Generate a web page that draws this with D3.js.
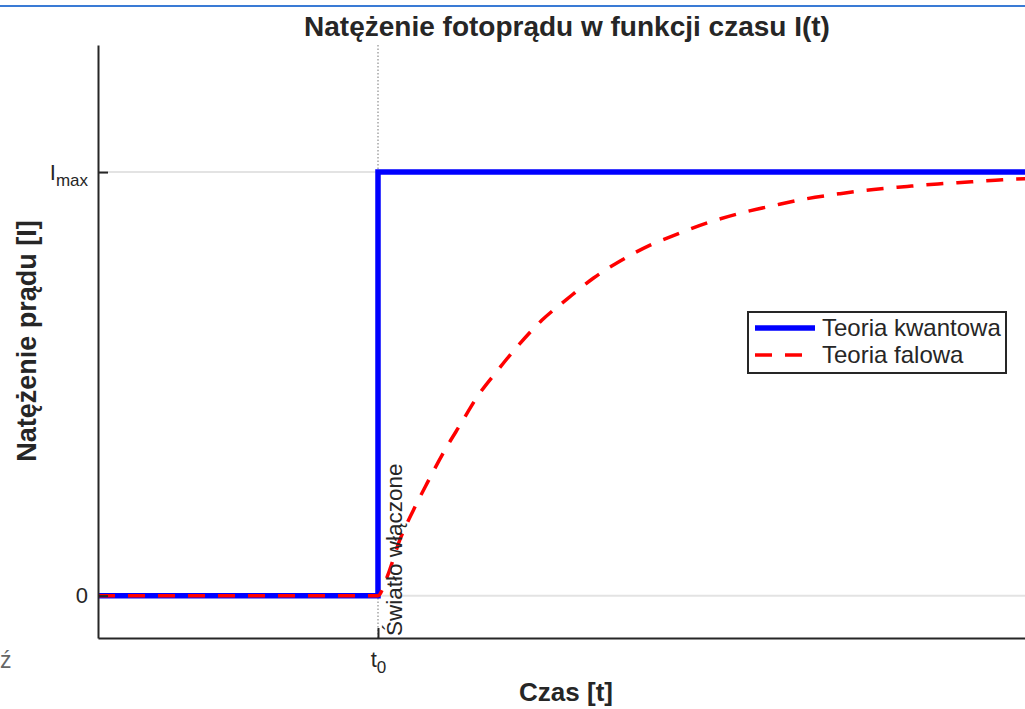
<!DOCTYPE html>
<html>
<head>
<meta charset="utf-8">
<script src="https://cdn.jsdelivr.net/npm/d3@7"></script>
<style>
  body { margin: 0; overflow: hidden; background: #fff; }
  text { font-family: "Liberation Sans", Arial, sans-serif; fill: #262626; }
</style>
</head>
<body>
<div id="wrapper"></div>
<script>
// t0 = moment the light is switched on
const t0 = 2
const tMax = 6.7

// quantum theory: instant jump to Imax
const quantumTime = [0, 2, 2, 6.7]
const quantumValue = [0, 0, 1, 1]

// wave theory: slow rise
const waveTime = [0, 2, 2.06, 2.16, 2.25, 2.35, 2.48, 2.59, 2.71, 2.85, 3.0, 3.17, 3.35, 3.54, 3.73, 3.94, 4.11, 4.37, 4.6, 4.84, 5.06, 5.3, 5.54, 5.78, 6.0, 6.24, 6.46, 6.7]
const waveValue = [0, 0, 0.04, 0.135, 0.2, 0.265, 0.345, 0.405, 0.47, 0.53, 0.59, 0.65, 0.7, 0.75, 0.79, 0.827, 0.85, 0.882, 0.904, 0.922, 0.937, 0.949, 0.959, 0.966, 0.972, 0.977, 0.982, 0.985]

const seriesNames = ["Teoria kwantowa", "Teoria falowa"]
const yTicks = [0, 1]

function drawChart() {
  let dimensions = {
    width: 1025,
    height: 709,
    left: 98,
    right: 1036,
    top: 45,
    bottom: 638
  }

  const wrapper = d3.select("#wrapper")
    .append("svg")
      .attr("width", dimensions.width)
      .attr("height", dimensions.height)

  // thin blue line along the top of the screenshot
  wrapper.append("rect")
    .attr("x", 0).attr("y", 5)
    .attr("width", dimensions.width).attr("height", 2)
    .attr("fill", "#3a7bd5")

  const xScale = d3.scaleLinear()
    .domain([0, tMax])
    .range([dimensions.left, dimensions.right])

  const yScale = d3.scaleLinear()
    .domain([-0.1, 1.3])
    .range([dimensions.bottom, dimensions.top])

  const bounds = wrapper.append("g")

  // grid lines
  bounds.selectAll(".grid")
    .data(yTicks)
    .enter().append("line")
      .attr("x1", dimensions.left)
      .attr("x2", dimensions.right)
      .attr("y1", d => yScale(d))
      .attr("y2", d => yScale(d))
      .attr("stroke", "#e3e3e3")
      .attr("stroke-width", 2)

  // dotted marker at t0
  bounds.append("line")
    .attr("x1", xScale(t0)).attr("x2", xScale(t0))
    .attr("y1", dimensions.top).attr("y2", dimensions.bottom)
    .attr("stroke", "#777")
    .attr("stroke-width", 1)
    .attr("stroke-dasharray", "1.5,2")

  const line = d3.line()
    .x(d => xScale(d[0]))
    .y(d => yScale(d[1]))

  const quantum = quantumTime.map((t, i) => [t, quantumValue[i]])
  const wave = waveTime.map((t, i) => [t, waveValue[i]])

  bounds.append("path")
    .attr("d", line(quantum))
    .attr("fill", "none")
    .attr("stroke", "#0000ff")
    .attr("stroke-width", 5.5)

  bounds.append("path")
    .attr("d", line.curve(d3.curveMonotoneX)(wave))
    .attr("fill", "none")
    .attr("stroke", "#ff0000")
    .attr("stroke-width", 3.5)
    .attr("stroke-dasharray", "17,13")

  // axes
  const yAxis = d3.axisLeft(yScale)
    .tickValues(yTicks)
    .tickSizeInner(-10)
    .tickSizeOuter(0)
    .tickPadding(10)
    .tickFormat(d => d === 0 ? "0" : "I")

  const yAxisGroup = bounds.append("g")
    .attr("transform", `translate(${dimensions.left},0)`)
    .call(yAxis)

  const xAxis = d3.axisBottom(xScale)
    .tickValues([t0])
    .tickSizeInner(-10)
    .tickSizeOuter(0)
    .tickPadding(13)
    .tickFormat(() => "t")

  const xAxisGroup = bounds.append("g")
    .attr("transform", `translate(0,${dimensions.bottom})`)
    .call(xAxis)

  ;[yAxisGroup, xAxisGroup].forEach(g => {
    g.select(".domain").attr("stroke", "#262626").attr("stroke-width", 2)
    g.selectAll(".tick line").attr("stroke", "#262626").attr("stroke-width", 2)
    g.selectAll(".tick text")
      .attr("font-size", 22)
      .attr("font-family", "Liberation Sans, Arial, sans-serif")
      .attr("fill", "#262626")
  })

  yAxisGroup.selectAll(".tick text")
    .filter(d => d === 1)
    .append("tspan")
      .attr("font-size", 17)
      .attr("dy", 6)
      .text("max")

  xAxisGroup.selectAll(".tick text")
    .append("tspan")
      .attr("font-size", 17)
      .attr("dy", 6)
      .text("0")

  // annotation
  bounds.append("text")
    .attr("transform", `translate(${xScale(t0) + 24},${dimensions.bottom - 2}) rotate(-90)`)
    .attr("font-size", 22.5)
    .text("Światło włączone")

  // title and labels
  wrapper.append("text")
    .attr("x", 567).attr("y", 36)
    .attr("text-anchor", "middle")
    .attr("font-size", 28)
    .attr("font-weight", "bold")
    .text("Natężenie fotoprądu w funkcji czasu I(t)")

  wrapper.append("text")
    .attr("x", 566).attr("y", 701)
    .attr("text-anchor", "middle")
    .attr("font-size", 26)
    .attr("font-weight", "bold")
    .text("Czas [t]")

  wrapper.append("text")
    .attr("transform", `translate(36,341) rotate(-90)`)
    .attr("text-anchor", "middle")
    .attr("font-size", 27)
    .attr("font-weight", "bold")
    .text("Natężenie prądu [I]")

  wrapper.append("text")
    .attr("x", 0).attr("y", 668)
    .attr("font-size", 23)
    .style("fill", "#666")
    .text("ź")

  // legend
  const legend = wrapper.append("g")
    .attr("transform", "translate(748,312)")

  legend.append("rect")
    .attr("width", 258).attr("height", 61)
    .attr("fill", "#fff")
    .attr("stroke", "#262626")
    .attr("stroke-width", 2)

  const legendItem = legend.selectAll(".legend-item")
    .data(seriesNames)
    .enter().append("g")
      .attr("transform", (d, i) => `translate(0,${16 + i * 27})`)

  legendItem.append("line")
    .attr("x1", 7)
    .attr("x2", (d, i) => i === 0 ? 67 : 62)
    .attr("stroke", (d, i) => i === 0 ? "#0000ff" : "#ff0000")
    .attr("stroke-width", (d, i) => i === 0 ? 5.5 : 3.5)
    .attr("stroke-dasharray", (d, i) => i === 0 ? null : "17,13")

  legendItem.append("text")
    .attr("x", 74)
    .attr("y", 8)
    .attr("font-size", 24)
    .text(d => d)
}

drawChart()
</script>
</body>
</html>
